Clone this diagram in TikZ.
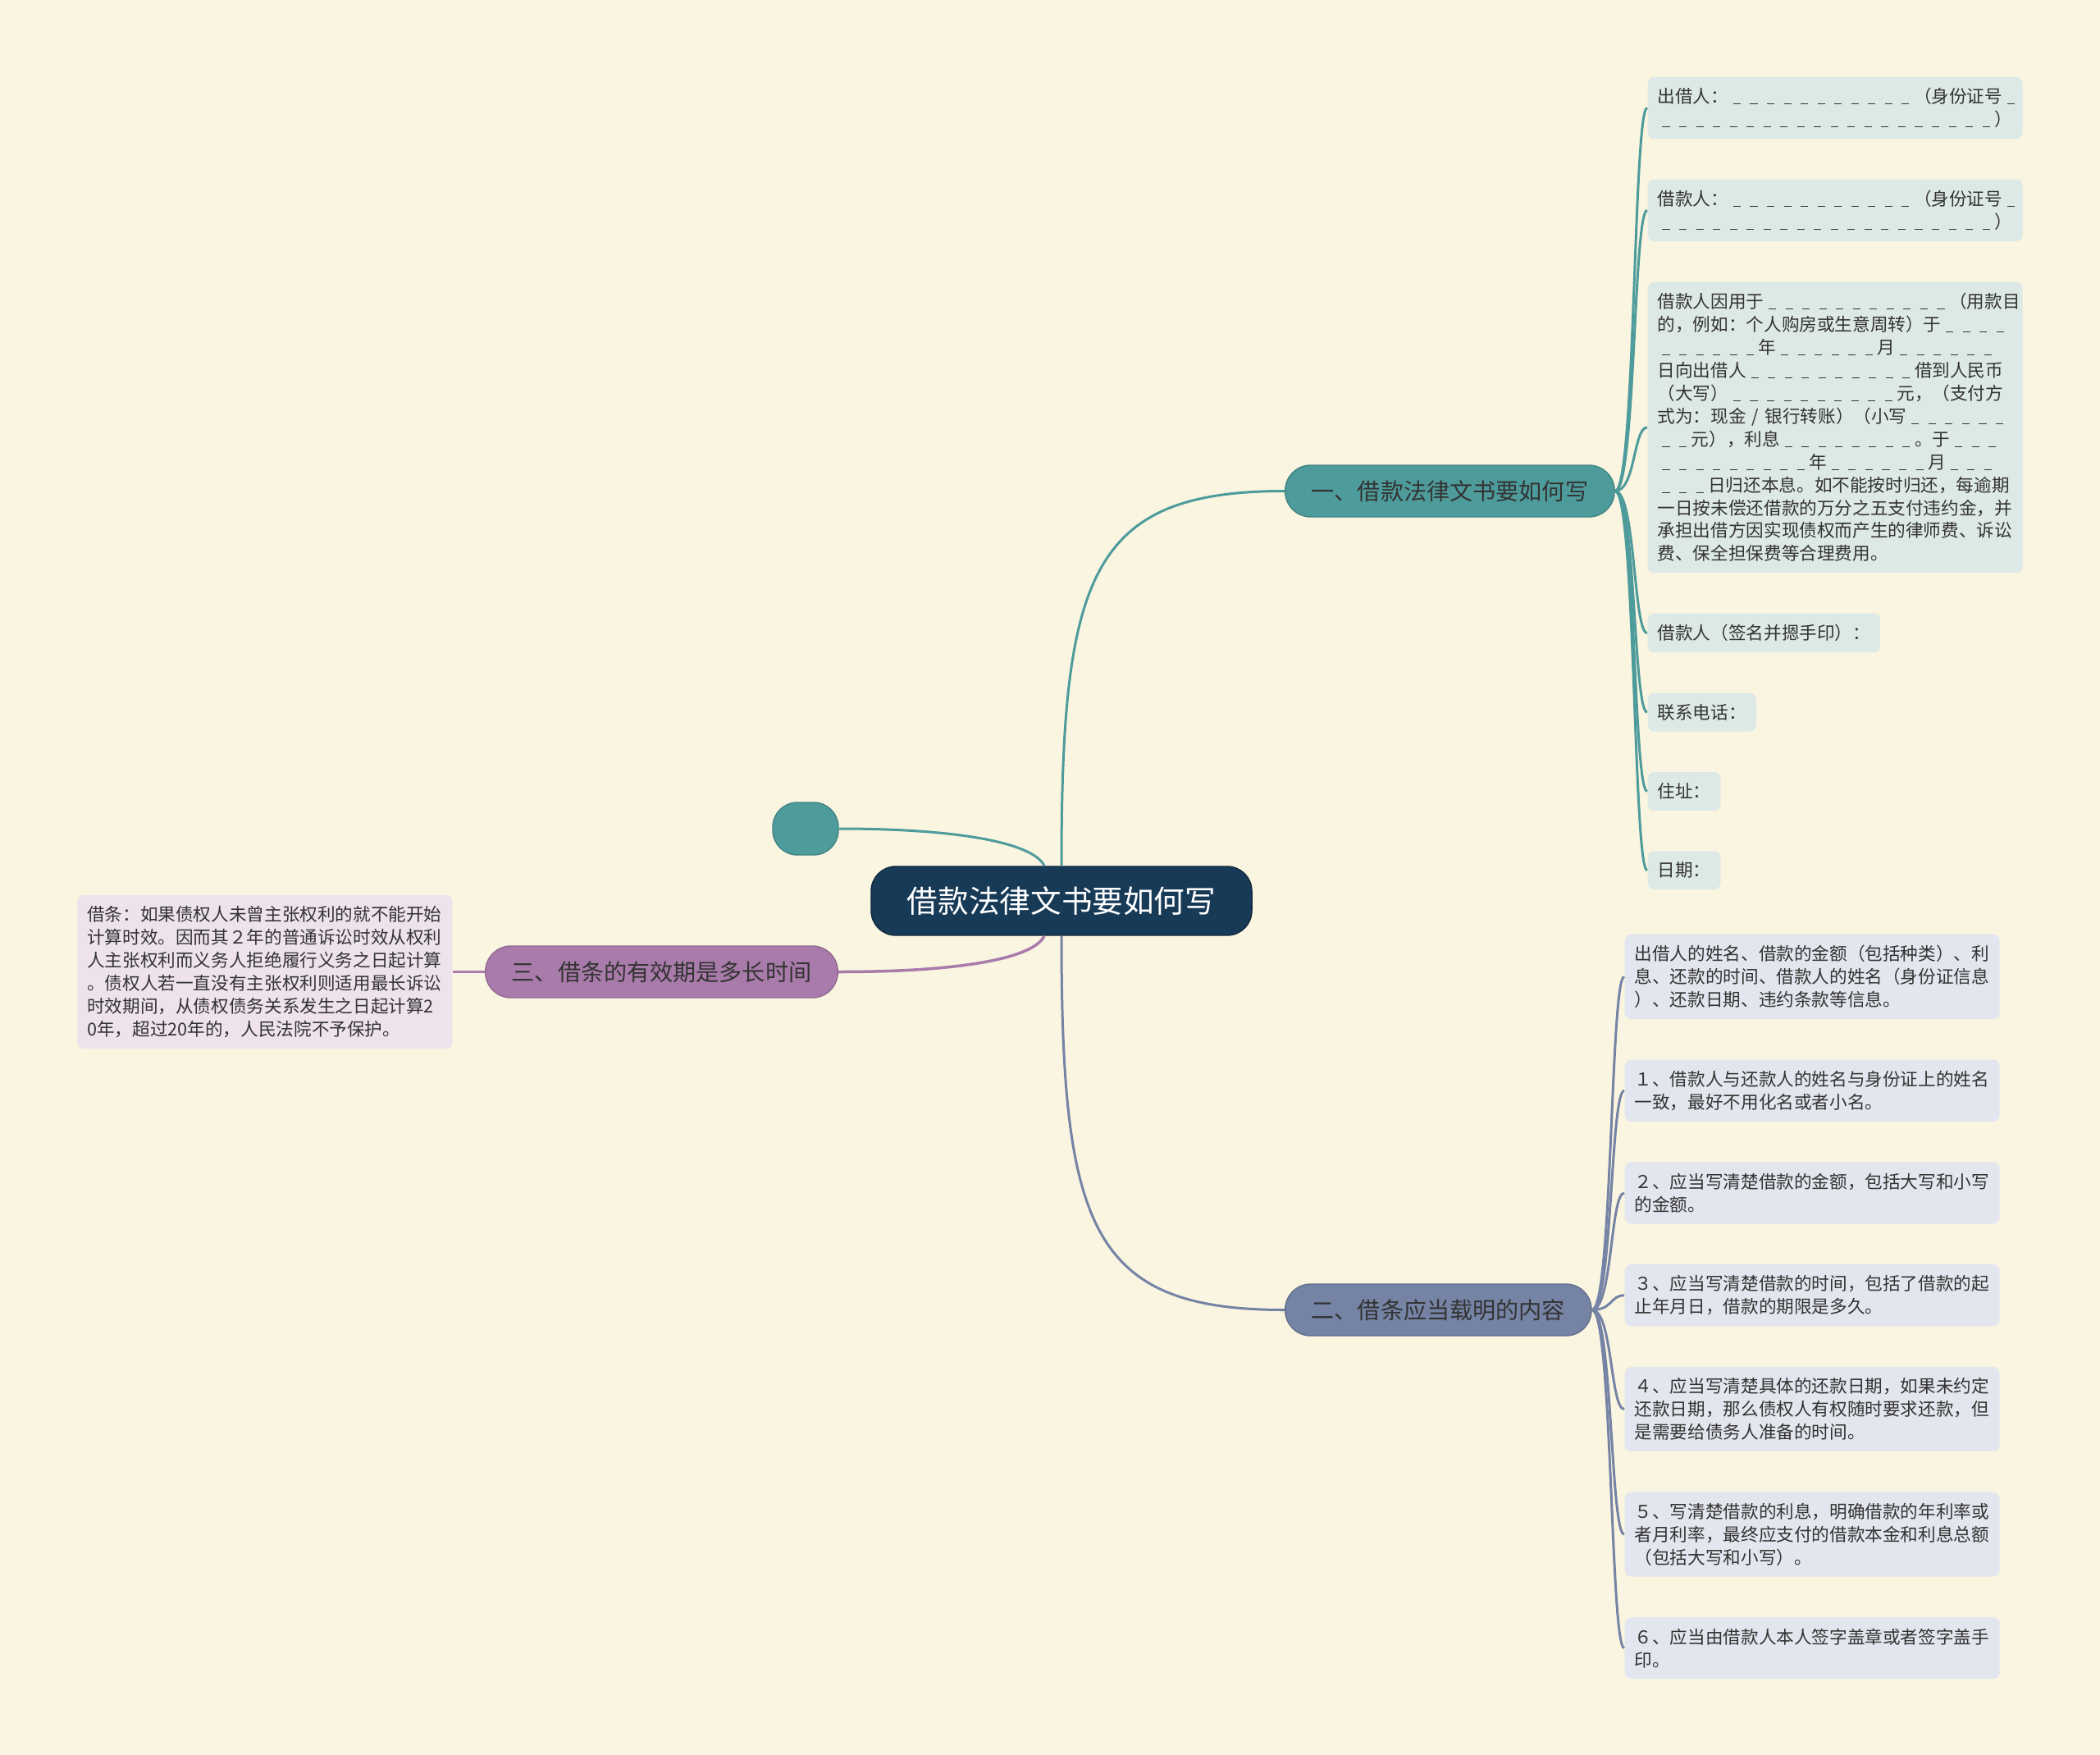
\documentclass[tikz,border=0pt]{standalone}
\usepackage{fontspec}
\setmainfont{Noto Sans CJK SC}
\usetikzlibrary{positioning}
\usepackage{xcolor}
\definecolor{paper}{HTML}{FAF5E1}
\definecolor{rootblue}{HTML}{173A57}
\definecolor{tealbr}{HTML}{4E9B9B}
\definecolor{slatebr}{HTML}{7583A5}
\definecolor{plumbr}{HTML}{A97BAA}
\definecolor{tealleaf}{HTML}{DDE9E6}
\definecolor{slateleaf}{HTML}{E3E6EE}
\definecolor{plumleaf}{HTML}{EEE3EC}
\definecolor{ink}{HTML}{333333}
\newcommand{\blk}[1]{\foreach \k in {1,...,#1}{\makebox[0.95em]{\rule[-0.08em]{0.42em}{0.06em}}}}

\begin{document}
\begin{tikzpicture}[
  font=\fontsize{6.15pt}{7.95pt}\selectfont,
  rootbox/.style={fill=rootblue,draw=rootblue!70!black,rounded corners=0.3cm,text=white,
    font=\fontsize{10.7pt}{13pt}\selectfont,inner xsep=0.44cm,minimum height=0.84cm},
  branch/.style={rounded corners=0.31cm,text=ink,font=\fontsize{8pt}{10pt}\selectfont,
    inner xsep=0.32cm,minimum height=0.63cm},
  leaf/.style={rounded corners=0.08cm,text=ink,inner xsep=0.12cm,inner ysep=0.135cm,align=left},
  wide/.style={text width=4.33cm},
  lf/.style={out=0,in=180,out distance=0.25cm,in distance=0.17cm},
  c1/.style={draw=tealbr,line width=0.03cm},
  c2/.style={draw=slatebr,line width=0.03cm},
  c3/.style={draw=plumbr,line width=0.035cm},
]
\fill[paper] (0,0) rectangle (25.6,-21.39);
% centre and main branches
\node[rootbox] (root) at (12.94,-10.98) {借款法律文书要如何写};
\node[fill=tealbr,draw=tealbr!85!black,rounded corners=0.3cm,minimum width=0.8cm,minimum height=0.64cm] (blob) at (9.82,-10.10) {};
\node[branch,fill=tealbr,draw=tealbr!85!black,anchor=west] (b1) at (15.66,-5.985) {一、借款法律文书要如何写};
\node[branch,fill=slatebr,draw=slatebr!85!black,anchor=west] (b2) at (15.66,-15.965) {二、借条应当载明的内容};
\node[branch,fill=plumbr,draw=plumbr!85!black,anchor=east] (b3) at (10.22,-11.845) {三、借条的有效期是多长时间};
% leaves of branch one
\node[leaf,wide,fill=tealleaf,anchor=north west] (a1) at (20.08,-0.93)
  {出借人：\blk{11}（身份证号\blk{1}\\\blk{20}）};
\node[leaf,wide,fill=tealleaf,below=0.48cm of a1.south west,anchor=north west] (a2)
  {借款人：\blk{11}（身份证号\blk{1}\\\blk{20}）};
\node[leaf,wide,fill=tealleaf,below=0.48cm of a2.south west,anchor=north west] (a3)
  {借款人因用于\blk{11}（用款目\\
   的，例如：个人购房或生意周转）于\blk{4}\\
   \blk{6}年\blk{6}月\blk{6}\\
   日向出借人\blk{10}借到人民币\\
   （大写）\blk{10}元，（支付方\\
   式为：现金 / 银行转账）（小写\blk{6}\\
   \blk{2}元），利息\blk{8}。于\blk{3}\\
   \blk{9}年\blk{6}月\blk{3}\\
   \blk{3}日归还本息。如不能按时归还，每逾期\\
   一日按未偿还借款的万分之五支付违约金，并\\
   承担出借方因实现债权而产生的律师费、诉讼\\
   费、保全担保费等合理费用。};
\node[leaf,fill=tealleaf,below=0.48cm of a3.south west,anchor=north west] (a4) {借款人（签名并摁手印）：};
\node[leaf,fill=tealleaf,below=0.48cm of a4.south west,anchor=north west] (a5) {联系电话：};
\node[leaf,fill=tealleaf,below=0.48cm of a5.south west,anchor=north west] (a6) {住址：};
\node[leaf,fill=tealleaf,below=0.48cm of a6.south west,anchor=north west] (a7) {日期：};
% leaves of branch two
\node[leaf,wide,fill=slateleaf,anchor=north west] (m1) at (19.80,-11.38)
  {出借人的姓名、借款的金额（包括种类）、利\\息、还款的时间、借款人的姓名（身份证信息\\）、还款日期、违约条款等信息。};
\node[leaf,wide,fill=slateleaf,below=0.48cm of m1.south west,anchor=north west] (m2)
  {１、借款人与还款人的姓名与身份证上的姓名\\一致，最好不用化名或者小名。};
\node[leaf,wide,fill=slateleaf,below=0.48cm of m2.south west,anchor=north west] (m3)
  {２、应当写清楚借款的金额，包括大写和小写\\的金额。};
\node[leaf,wide,fill=slateleaf,below=0.48cm of m3.south west,anchor=north west] (m4)
  {３、应当写清楚借款的时间，包括了借款的起\\止年月日，借款的期限是多久。};
\node[leaf,wide,fill=slateleaf,below=0.48cm of m4.south west,anchor=north west] (m5)
  {４、应当写清楚具体的还款日期，如果未约定\\还款日期，那么债权人有权随时要求还款，但\\是需要给债务人准备的时间。};
\node[leaf,wide,fill=slateleaf,below=0.48cm of m5.south west,anchor=north west] (m6)
  {５、写清楚借款的利息，明确借款的年利率或\\者月利率，最终应支付的借款本金和利息总额\\（包括大写和小写）。};
\node[leaf,wide,fill=slateleaf,below=0.48cm of m6.south west,anchor=north west] (m7)
  {６、应当由借款人本人签字盖章或者签字盖手\\印。};
% leaf of branch three
\node[leaf,wide,fill=plumleaf,anchor=east] (p1) at (5.52,-11.845)
  {借条：如果债权人未曾主张权利的就不能开始\\计算时效。因而其２年的普通诉讼时效从权利\\人主张权利而义务人拒绝履行义务之日起计算\\。债权人若一直没有主张权利则适用最长诉讼\\时效期间，从债权债务关系发生之日起计算2\\0年，超过20年的，人民法院不予保护。};
% connectors
\draw[c1] (root.north) to[out=90,in=180,out distance=3.56cm,in distance=2.36cm] (b1.west);
\draw[c2] (root.south) to[out=-90,in=180,out distance=3.56cm,in distance=2.36cm] (b2.west);
\draw[c1] ([xshift=-0.21cm]root.north) to[out=115,in=0,out distance=0.3cm,in distance=1.5cm] (blob.east);
\draw[c3] ([xshift=-0.21cm]root.south) to[out=-115,in=0,out distance=0.3cm,in distance=1.5cm] (b3.east);
\draw[c3] (b3.west) -- (p1.east);
\foreach \n in {1,...,7} \draw[c1] (b1.east) to[lf] (a\n.west);
\foreach \n in {1,...,7} \draw[c2] (b2.east) to[lf] (m\n.west);
\end{tikzpicture}
\end{document}
